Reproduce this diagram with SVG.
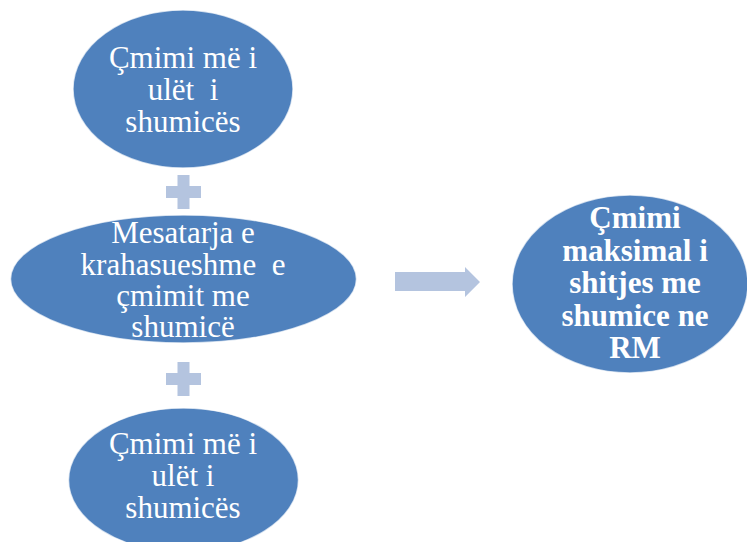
<svg xmlns="http://www.w3.org/2000/svg" width="747" height="542" viewBox="0 0 747 542">
<style>
.node ellipse{fill:#4F81BD;stroke:#FFFFFF;stroke-opacity:0.7;stroke-width:1.5}
.lbl{font-family:"Liberation Serif","Times New Roman",serif;font-size:31px;fill:#FFFFFF;text-anchor:middle;white-space:pre}
.bold{font-weight:bold}
.conn{fill:#B4C4DF}
</style>
<rect width="747" height="542" fill="#FFFFFF"/>
<g id="connectors">
<path class="conn" d="M166,186H177.5V175H189.5V186H201V198H189.5V209H177.5V198H166Z"/>
<path class="conn" d="M166,373H177.5V362H189.5V373H201V385H189.5V396H177.5V385H166Z"/>
<polygon class="conn" points="395,272 465,272 465,267 480,282 465,297 465,291 395,291"/>
</g>
<g id="node-top" class="node">
<ellipse cx="183" cy="89" rx="110" ry="79"/>
<text class="lbl" x="183" y="68">Çmimi më i</text>
<text class="lbl" x="183" y="100">ulët  i</text>
<text class="lbl" x="183" y="132">shumicës</text>
</g>
<g id="node-middle" class="node">
<ellipse cx="183.5" cy="279" rx="173" ry="64"/>
<text class="lbl" x="183" y="243">Mesatarja e</text>
<text class="lbl" x="183" y="275">krahasueshme  e</text>
<text class="lbl" x="183" y="306">çmimit me</text>
<text class="lbl" x="183" y="337">shumicë</text>
</g>
<g id="node-bottom" class="node">
<ellipse cx="183.5" cy="480" rx="115" ry="72"/>
<text class="lbl" x="183" y="454">Çmimi më i</text>
<text class="lbl" x="183" y="486">ulët i</text>
<text class="lbl" x="183" y="518">shumicës</text>
</g>
<g id="node-result" class="node">
<ellipse cx="630" cy="284" rx="118" ry="89"/>
<text class="lbl bold" x="635" y="228">Çmimi</text>
<text class="lbl bold" x="635" y="260.5">maksimal i</text>
<text class="lbl bold" x="635" y="293">shitjes me</text>
<text class="lbl bold" x="635" y="325.5">shumice ne</text>
<text class="lbl bold" x="635" y="358">RM</text>
</g>
</svg>
